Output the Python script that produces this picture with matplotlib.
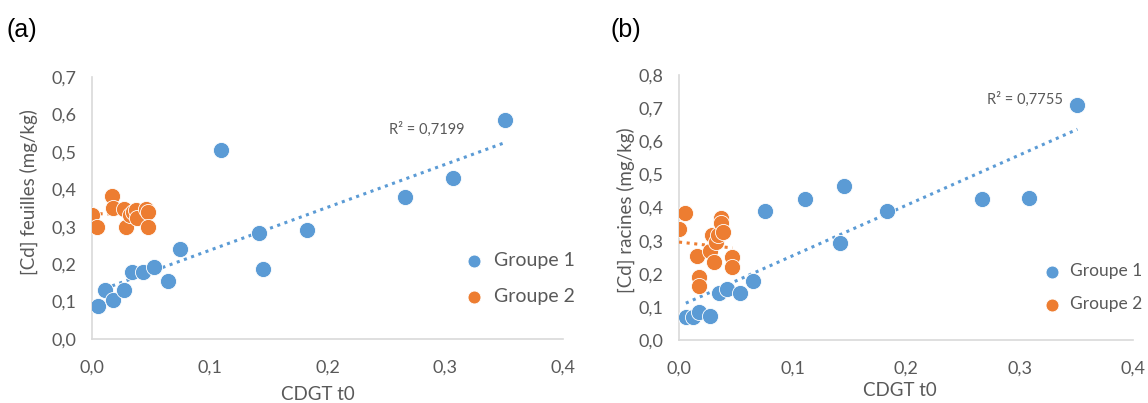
import numpy as np
import matplotlib
matplotlib.use("Agg")
import matplotlib.pyplot as plt

BLUE = "#5B9BD5"
ORANGE = "#ED7D31"
GREY = "#595959"

# (a) feuilles
a_g1_x = [0.005, 0.011, 0.018, 0.027, 0.034, 0.043, 0.053, 0.065, 0.075, 0.110, 0.142, 0.145, 0.183, 0.266, 0.307, 0.351]
a_g1_y = [0.088, 0.131, 0.104, 0.131, 0.179, 0.179, 0.193, 0.155, 0.240, 0.505, 0.283, 0.188, 0.291, 0.380, 0.431, 0.584]
a_g2_x = [0.000, 0.004, 0.017, 0.018, 0.027, 0.029, 0.032, 0.035, 0.037, 0.038, 0.046, 0.048, 0.048]
a_g2_y = [0.331, 0.300, 0.382, 0.349, 0.348, 0.300, 0.331, 0.340, 0.345, 0.323, 0.348, 0.340, 0.298]

# (b) racines
b_g1_x = [0.006, 0.012, 0.018, 0.027, 0.035, 0.042, 0.054, 0.065, 0.076, 0.111, 0.145, 0.142, 0.183, 0.267, 0.308, 0.351]
b_g1_y = [0.070, 0.068, 0.086, 0.072, 0.143, 0.153, 0.141, 0.179, 0.390, 0.426, 0.465, 0.292, 0.388, 0.426, 0.430, 0.708]
b_g2_x = [0.000, 0.005, 0.016, 0.018, 0.018, 0.027, 0.029, 0.031, 0.033, 0.034, 0.037, 0.037, 0.039, 0.047, 0.047]
b_g2_y = [0.335, 0.383, 0.254, 0.190, 0.163, 0.269, 0.317, 0.235, 0.297, 0.317, 0.368, 0.352, 0.325, 0.252, 0.220]

plt.rcParams["font.family"] = ["Lato", "DejaVu Sans"]


def trend(ax, x, y, color):
    # linear trendline over the data range, like Excel
    x = np.array(x)
    k, b = np.polyfit(x, y, 1)
    xs = np.array([x.min(), x.max()])
    ax.plot(xs, k * xs + b, linestyle=(0, (1, 1.5)), color=color, linewidth=2.2, zorder=3)


def panel(ax, g1x, g1y, g2x, g2y, ymax, ylabel, r2, r2pos, ylab_xy, xlab_xy, leg_xy, leg_fs):
    ax.scatter(g1x, g1y, s=135, color=BLUE, edgecolor="white", linewidth=0.6, zorder=4, label="Groupe 1")
    ax.scatter(g2x, g2y, s=135, color=ORANGE, edgecolor="white", linewidth=0.6, zorder=4, label="Groupe 2")
    trend(ax, g1x, g1y, BLUE)
    trend(ax, g2x, g2y, ORANGE)
    ax.set_xlim(0, 0.4)
    ax.set_ylim(0, ymax)
    ax.set_xticks(np.arange(0, 0.41, 0.1))
    ax.set_yticks(np.arange(0, ymax + 0.001, 0.1))
    ax.set_xticklabels([f"{v:.1f}".replace(".", ",") for v in ax.get_xticks()])
    ax.set_yticklabels([f"{v:.1f}".replace(".", ",") for v in ax.get_yticks()])
    ax.tick_params(length=0, labelsize=13, colors=GREY)
    ax.tick_params(axis="x", pad=15)
    ax.tick_params(axis="y", pad=11)
    for s in ["top", "right"]:
        ax.spines[s].set_visible(False)
    for s in ["left", "bottom"]:
        ax.spines[s].set_color("#D9D9D9")
        ax.spines[s].set_linewidth(1.2)
    ax.set_ylabel(ylabel, fontsize=13.5, color=GREY)
    ax.yaxis.set_label_coords(*ylab_xy)
    ax.set_xlabel("CDGT t0", fontsize=13.5, color=GREY)
    ax.xaxis.set_label_coords(*xlab_xy)
    ax.text(r2pos[0], r2pos[1], r2, fontsize=10.5, color=GREY, ha="center", va="center")
    ax.legend(loc="center left", bbox_to_anchor=leg_xy, frameon=False, fontsize=leg_fs,
              labelcolor=GREY, handletextpad=0.0, labelspacing=1.0, borderpad=0, markerscale=0.8)


fig = plt.figure(figsize=(11.48, 4.03), dpi=100)
ax1 = fig.add_axes([0.0801, 0.1588, 0.4103, 0.6502])
ax2 = fig.add_axes([0.5915, 0.1563, 0.3955, 0.6576])

panel(ax1, a_g1_x, a_g1_y, a_g2_x, a_g2_y, 0.7, "[Cd] feuilles (mg/kg)", "R² = 0,7199",
      (0.284, 0.559), (-0.115, 0.56), (0.48, -0.18), (0.75, 0.23), 14)
panel(ax2, b_g1_x, b_g1_y, b_g2_x, b_g2_y, 0.8, "[Cd] racines (mg/kg)", "R² = 0,7755",
      (0.305, 0.728), (-0.097, 0.49), (0.487, -0.16), (0.765, 0.197), 12.5)

fig.text(0.006, 0.925, "(a)", fontsize=18, family="Liberation Sans", va="center")
fig.text(0.532, 0.925, "(b)", fontsize=18, family="Liberation Sans", va="center")

fig.savefig("out.png", dpi=100)
